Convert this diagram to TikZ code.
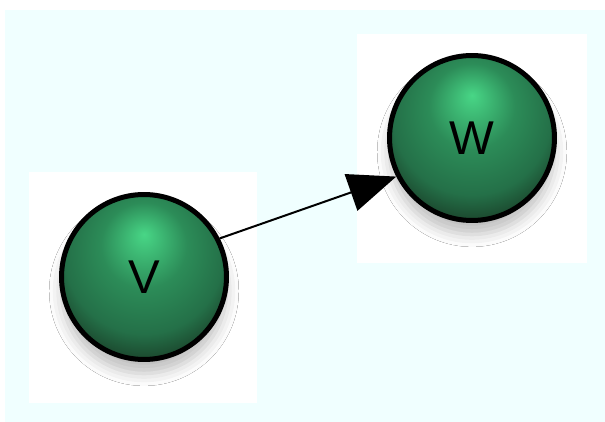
\documentclass[tikz,border=0pt]{standalone}
\usepackage{fontspec}
\setmainfont{Liberation Sans}
\usepackage{tikz}
\usetikzlibrary{arrows.meta,shadows.blur}

\definecolor{bgcyan}{RGB}{240,255,255}
\definecolor{ballhi}{RGB}{72,214,134}
\definecolor{ballmid}{RGB}{44,140,88}
\definecolor{ballside}{RGB}{36,112,72}
\definecolor{balldark}{RGB}{26,66,42}
\pgfdeclareradialshading{greenball}{\pgfpoint{0bp}{13bp}}{%
  color(0bp)=(ballhi); color(13bp)=(ballmid); color(24bp)=(ballside);
  color(31bp)=(balldark); color(50bp)=(balldark)}

\begin{document}
\begin{tikzpicture}[x=0.02cm,y=-0.02cm,
    ball/.style={circle, draw=black, line width=0.1cm, minimum size=3.3cm,
      shading=greenball,
      blur shadow={shadow xshift=0pt, shadow yshift=-8pt, shadow blur radius=7pt, shadow opacity=25},
      font=\fontsize{27}{31}\selectfont, text=black}]
    \useasboundingbox (0,0) rectangle (605,422);
    \fill[bgcyan] (5,10) rectangle (605,422);
    \fill[white] (29,172) rectangle (257,403);
    \fill[white] (357,34) rectangle (587,263);
    \node[ball] (v) at (144,277) {V};
    \node[ball] (w) at (472,138) {W};
    \draw[line width=0.04cm, -{Triangle[length=0.96cm,width=0.77cm]}] (v.27) -- (w.207);
  \end{tikzpicture}
\end{document}
